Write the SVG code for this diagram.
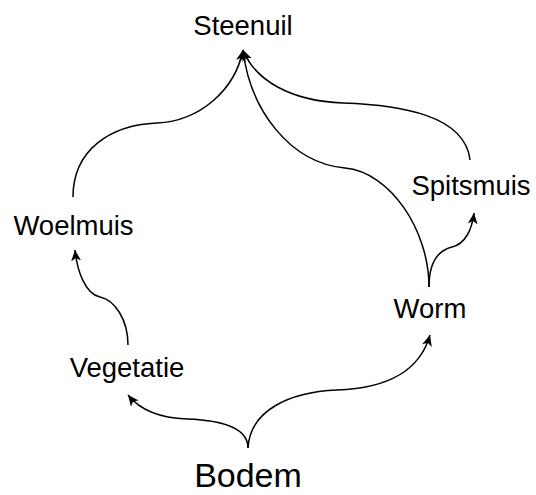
<svg xmlns="http://www.w3.org/2000/svg" width="536" height="495" viewBox="0 0 536 495">
<style>
text{font-family:"Liberation Sans",Arial,sans-serif;fill:#000;text-anchor:middle}
.lbl{font-size:27.5px}
.edge{fill:none;stroke:#000;stroke-width:1.5;marker-end:url(#arr)}
</style>
<defs>
<marker id="arr" markerUnits="userSpaceOnUse" markerWidth="14" markerHeight="12" refX="11" refY="5" orient="auto">
<path d="M0,0 L11,5 L0,10 L3,5 z" fill="#000"/>
</marker>
</defs>
<rect width="536" height="495" fill="#fff"/>
<g id="connectors">
<path class="edge" d="M248,448 C248,425 215,420 187,419 C160,418 140,410 128,395"/>
<path class="edge" d="M248,448 C250,410 290,392 337,390 C390,388 420,370 430,335"/>
<path class="edge" d="M128,345 C128,320 115,300 100,297 C85,294 77,270 75,250"/>
<path class="edge" d="M73,197 C73,150 110,125 157,123 C200,121 235,90 243,50"/>
<path class="edge" d="M470,160 C465,115 400,105 343,103 C290,101 255,80 243,50"/>
<path class="edge" d="M429,287 C429,230 390,172 345,168 C290,163 250,110 243,50"/>
<path class="edge" d="M429,287 C429,260 440,250 452,247 C465,244 472,230 474,213"/>
</g>
<g id="steenuil"><text class="lbl" x="243" y="35">Steenuil</text></g>
<g id="woelmuis"><text class="lbl" x="73.5" y="235">Woelmuis</text></g>
<g id="spitsmuis"><text class="lbl" x="471" y="195">Spitsmuis</text></g>
<g id="worm"><text class="lbl" x="430" y="318">Worm</text></g>
<g id="vegetatie"><text class="lbl" x="127" y="377">Vegetatie</text></g>
<g id="bodem"><text x="248" y="487" font-size="34">Bodem</text></g>
</svg>
